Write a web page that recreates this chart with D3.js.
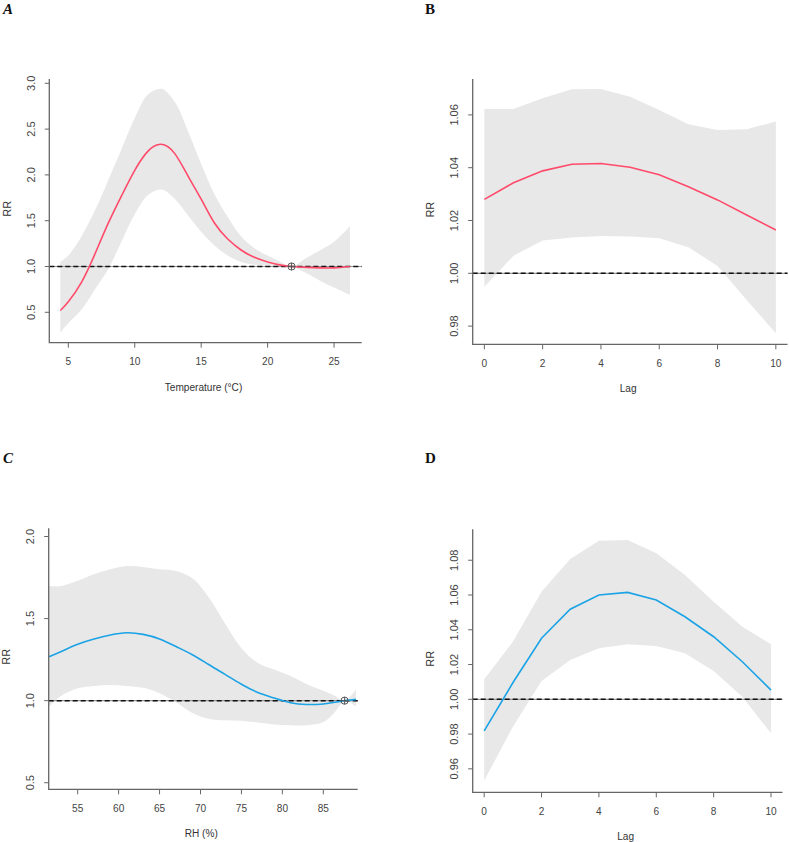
<!DOCTYPE html>
<html>
<head>
<meta charset="utf-8">
<script src="https://cdn.jsdelivr.net/npm/d3@7"></script>
<style>
  body { margin: 0; background: #fff; }
  svg { display: block; }
</style>
</head>
<body>
<div id="chart"></div>
<script>
// Panel A: temperature-response curve
const tempX   = [4.4, 5, 6, 7, 8, 9, 10, 11, 12, 13, 14, 15, 16, 17, 18, 19, 20, 21, 21.8, 23, 24, 25, 26.2];
const tempFit = [0.52, 0.615, 0.83, 1.135, 1.47, 1.77, 2.05, 2.26, 2.335, 2.235, 1.99, 1.735, 1.475, 1.30, 1.18, 1.10, 1.05, 1.015, 1.0, 0.99, 0.985, 0.985, 1.0];
const tempHi  = [1.05, 1.12, 1.33, 1.61, 1.94, 2.28, 2.62, 2.88, 2.94, 2.80, 2.48, 2.12, 1.79, 1.54, 1.33, 1.20, 1.12, 1.05, 1.0, 1.10, 1.18, 1.27, 1.44];
const tempLo  = [0.28, 0.38, 0.53, 0.75, 0.97, 1.27, 1.57, 1.78, 1.84, 1.74, 1.56, 1.38, 1.23, 1.12, 1.05, 1.02, 1.01, 1.003, 1.0, 0.92, 0.84, 0.77, 0.69];
const tempTicksX = [5, 10, 15, 20, 25];
const tempTicksY = [0.5, 1.0, 1.5, 2.0, 2.5, 3.0];

// Panels B and D: lag-response
const lagX  = [0, 1, 2, 3, 4, 5, 6, 7, 8, 9, 10];
const bFit  = [1.028, 1.0343, 1.0388, 1.0413, 1.0416, 1.0402, 1.0373, 1.0328, 1.0278, 1.0221, 1.0164];
const bHi   = [1.0622, 1.0622, 1.0663, 1.0697, 1.0698, 1.0669, 1.0619, 1.0565, 1.0543, 1.0546, 1.0575];
const bLo   = [0.9949, 1.0066, 1.0124, 1.0136, 1.0141, 1.0139, 1.0133, 1.0099, 1.0028, 0.9899, 0.9773];
const dFit  = [0.9818, 1.0095, 1.0351, 1.0518, 1.060, 1.0615, 1.0571, 1.0475, 1.036, 1.0216, 1.0053];
const dHi   = [1.0115, 1.0331, 1.0619, 1.0807, 1.0912, 1.0916, 1.084, 1.0715, 1.0561, 1.0418, 1.0316];
const dLo   = [0.9532, 0.9842, 1.0105, 1.0226, 1.0293, 1.0316, 1.0307, 1.0265, 1.0163, 1.0015, 0.9804];
const lagTicksX = [0, 2, 4, 6, 8, 10];
const bTicksY = [0.98, 1.00, 1.02, 1.04, 1.06];
const dTicksY = [0.96, 0.98, 1.00, 1.02, 1.04, 1.06, 1.08];

// Panel C: relative humidity-response curve
const rhX   = [51.5, 53, 55, 57, 59, 61, 63, 65, 67, 69, 71, 73, 75, 77, 79, 81, 83, 85, 86.4, 87.6, 89];
const rhFit = [1.268, 1.30, 1.343, 1.375, 1.40, 1.414, 1.404, 1.376, 1.33, 1.28, 1.22, 1.16, 1.10, 1.05, 1.016, 0.987, 0.977, 0.98, 0.99, 1.0, 1.008];
const rhHi  = [1.698, 1.698, 1.73, 1.77, 1.80, 1.82, 1.815, 1.80, 1.79, 1.745, 1.63, 1.47, 1.32, 1.23, 1.19, 1.15, 1.10, 1.06, 1.03, 1.0, 1.07];
const rhLo  = [0.963, 1.03, 1.075, 1.09, 1.095, 1.09, 1.078, 1.045, 0.99, 0.925, 0.89, 0.88, 0.877, 0.867, 0.855, 0.85, 0.85, 0.87, 0.93, 1.0, 0.963];
const rhTicksX = [55, 60, 65, 70, 75, 80, 85];
const rhTicksY = [0.5, 1.0, 1.5, 2.0];

const RED = "#ff4a6a", BLUE = "#1ba3e6";

const svg = d3.select("#chart").append("svg")
  .attr("width", 789).attr("height", 842);

function sansText(g, x, y, txt, opts = {}) {
  const rot = opts.rotate ? " rotate(-90)" : "";
  return g.append("text")
    .attr("transform", `translate(${x},${y}) scale(0.92,1)${rot}`)
    .attr("text-anchor", "middle")
    .attr("dominant-baseline", "central")
    .attr("font-family", "Liberation Sans, Arial, sans-serif")
    .attr("font-size", opts.size || 11)
    .attr("fill", opts.fill || "#444")
    .text(txt);
}

function drawPanel(p) {
  const g = svg.append("g");
  const x = d3.scaleLinear().domain(p.xDomain).range([p.left, p.right]);
  const y = d3.scaleLinear().domain(p.yDomain).range([p.bottom, p.top]);

  const rows = p.xs.map((v, i) => ({ x: v, fit: p.fit[i], lo: p.lo[i], hi: p.hi[i] }));
  const lineCurve = p.smooth ? d3.curveNatural : d3.curveLinear;
  const bandCurve = p.smooth ? d3.curveCatmullRom.alpha(0.5) : d3.curveLinear;

  // confidence band
  g.append("path")
    .datum(rows)
    .attr("fill", "#e8e8e8")
    .attr("d", d3.area().curve(bandCurve).x(d => x(d.x)).y0(d => y(d.lo)).y1(d => y(d.hi)));

  // reference line at RR = 1
  g.append("line")
    .attr("x1", p.left).attr("x2", p.right)
    .attr("y1", y(1)).attr("y2", y(1))
    .attr("stroke", "#999").attr("stroke-width", 1.2);
  g.append("line")
    .attr("x1", p.left).attr("x2", p.right)
    .attr("y1", y(1)).attr("y2", y(1))
    .attr("stroke", "#111").attr("stroke-width", 1.5)
    .attr("stroke-dasharray", "5,3");

  // fitted curve
  g.append("path")
    .datum(rows)
    .attr("fill", "none")
    .attr("stroke", p.color)
    .attr("stroke-width", 1.6)
    .attr("d", d3.line().curve(lineCurve).x(d => x(d.x)).y(d => y(d.fit)));

  // centering value marker (circled plus)
  if (p.cen != null) {
    const cx = x(p.cen), cy = y(1);
    g.append("circle").attr("cx", cx).attr("cy", cy).attr("r", 3.6)
      .attr("fill", "none").attr("stroke", "#555").attr("stroke-width", 1);
    g.append("path").attr("d", `M${cx - 3.6},${cy}H${cx + 3.6}M${cx},${cy - 3.6}V${cy + 3.6}`)
      .attr("stroke", "#555").attr("stroke-width", 1);
  }

  // L-shaped box
  g.append("path")
    .attr("d", `M${p.left},${p.top}V${p.bottom}H${p.right}`)
    .attr("fill", "none").attr("stroke", "#666").attr("stroke-width", 1.3);

  // ticks
  p.ticksX.forEach(t => {
    g.append("line").attr("x1", x(t)).attr("x2", x(t))
      .attr("y1", p.bottom).attr("y2", p.bottom + 5)
      .attr("stroke", "#666").attr("stroke-width", 1);
    sansText(g, x(t), p.bottom + 18.5, p.fmtX(t));
  });
  p.ticksY.forEach(t => {
    g.append("line").attr("x1", p.left - 4.5).attr("x2", p.left)
      .attr("y1", y(t)).attr("y2", y(t))
      .attr("stroke", "#666").attr("stroke-width", 1);
    sansText(g, p.left - 18.5, y(t), p.fmtY(t), { rotate: true });
  });

  // axis titles
  sansText(g, (p.left + p.right) / 2 - 2, p.bottom + 44, p.xTitle, { fill: "#333" });
  sansText(g, p.left - 42.5, (p.top + p.bottom) / 2 - 2, "RR", { rotate: true, fill: "#333" });

  // panel letter
  svg.append("text")
    .attr("x", p.letterX).attr("y", p.letterY)
    .attr("font-family", "Liberation Serif, Times New Roman, serif")
    .attr("font-size", 15)
    .attr("font-weight", "bold")
    .attr("font-style", p.italic ? "italic" : "normal")
    .attr("fill", "#111")
    .text(p.letter);
}

const f1 = d3.format(".1f"), f2 = d3.format(".2f"), f0 = d3.format("d");

drawPanel({
  letter: "A", italic: true, letterX: 3, letterY: 14,
  xs: tempX, fit: tempFit, lo: tempLo, hi: tempHi, smooth: true, color: RED, cen: 21.8,
  left: 49.3, right: 361.7, top: 79, bottom: 342.7,
  xDomain: [3.57, 27.08], yDomain: [0.168, 3.047],
  ticksX: tempTicksX, ticksY: tempTicksY, fmtX: f0, fmtY: f1,
  xTitle: "Temperature (°C)"
});

drawPanel({
  letter: "B", italic: false, letterX: 425, letterY: 14,
  xs: lagX, fit: bFit, lo: bLo, hi: bHi, smooth: false, color: RED, cen: null,
  left: 472.7, right: 787.5, top: 79, bottom: 344.3,
  xDomain: [-0.4, 10.4], yDomain: [0.9731, 1.0736],
  ticksX: lagTicksX, ticksY: bTicksY, fmtX: f0, fmtY: f2,
  xTitle: "Lag"
});

drawPanel({
  letter: "C", italic: true, letterX: 3, letterY: 463,
  xs: rhX, fit: rhFit, lo: rhLo, hi: rhHi, smooth: true, color: BLUE, cen: 87.6,
  left: 48.7, right: 357.7, top: 528.3, bottom: 789.3,
  xDomain: [51.46, 89.2], yDomain: [0.46, 2.05],
  ticksX: rhTicksX, ticksY: rhTicksY, fmtX: f0, fmtY: f1,
  xTitle: "RH (%)"
});

drawPanel({
  letter: "D", italic: false, letterX: 425, letterY: 463,
  xs: lagX, fit: dFit, lo: dLo, hi: dHi, smooth: false, color: BLUE, cen: null,
  left: 472.7, right: 782.5, top: 529.3, bottom: 792.3,
  xDomain: [-0.4, 10.4], yDomain: [0.9465, 1.0978],
  ticksX: lagTicksX, ticksY: dTicksY, fmtX: f0, fmtY: f2,
  xTitle: "Lag"
});
</script>
</body>
</html>
